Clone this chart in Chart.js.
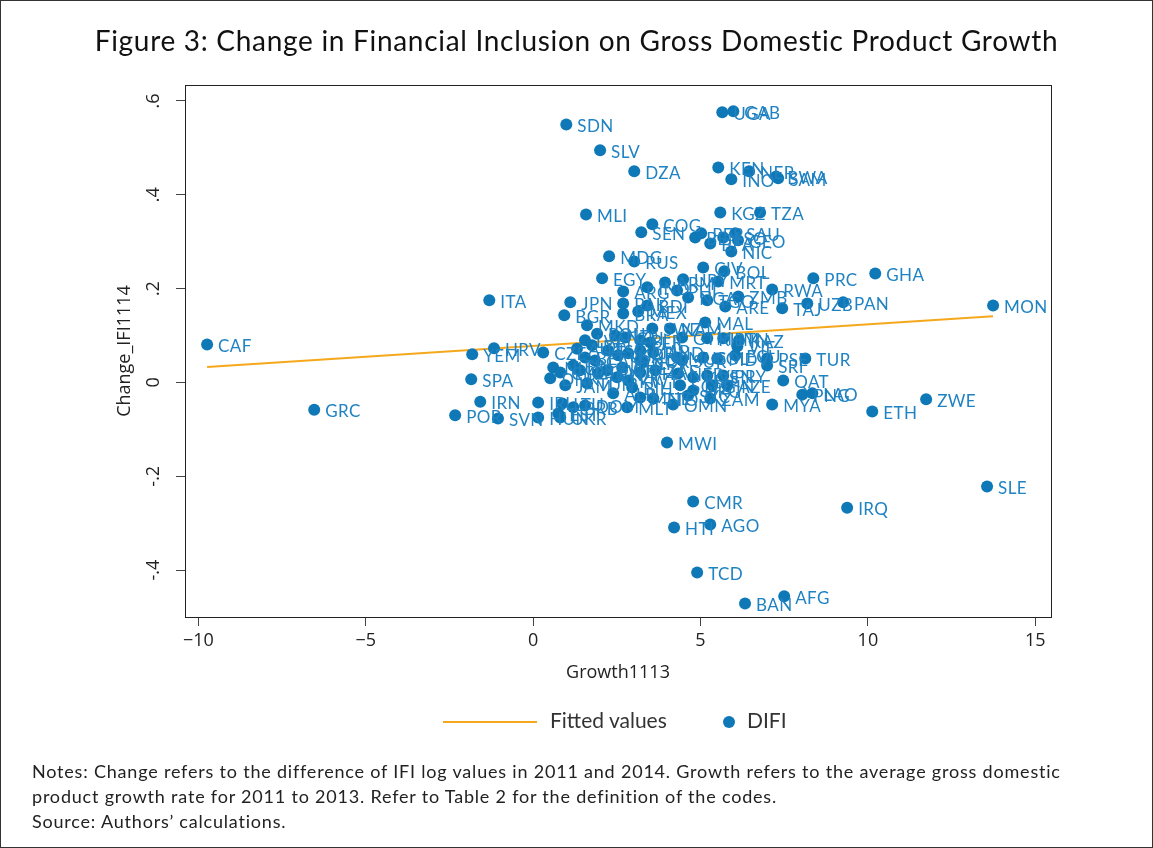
<!DOCTYPE html>
<html>
<head>
<meta charset="utf-8">
<script src="https://cdn.jsdelivr.net/npm/chart.js@4.4.0/dist/chart.umd.min.js"></script>
<style>
  body { margin: 0; background: #fff; }
  #moldura { position: absolute; left: 0; top: 0; width: 1153px; height: 848px; box-sizing: border-box; border: 1px solid #333; pointer-events: none; }
  #grafico { position: absolute; left: 0; top: 0; }
  #titulo { position: absolute; left: 0; top: 23px; width: 1153px; text-align: center; font: 28px Lato; letter-spacing: 0.7px; color: #111; }
  .leg { position: absolute; font: 21px Lato; color: #333; }
  #notas { position: absolute; left: 32px; top: 759px; font: 18px Lato; letter-spacing: 0.8px; line-height: 25px; color: #222; }
</style>
</head>
<body>
<canvas id="grafico" width="1153" height="848"></canvas>
<div id="titulo">Figure 3: Change in Financial Inclusion on Gross Domestic Product Growth</div>
<div style="position:absolute;left:443px;top:721px;width:94px;height:2px;background:#f5a81c"></div>
<div class="leg" style="left:550px;top:707px">Fitted values</div>
<div style="position:absolute;left:723px;top:716px;width:12px;height:12px;border-radius:6px;background:#0f78b6"></div>
<div class="leg" style="left:747px;top:707px">DIFI</div>
<div id="notas">Notes: Change refers to the difference of IFI log values in 2011 and 2014. Growth refers to the average gross domestic<br>product growth rate for 2011 to 2013. Refer to Table 2 for the definition of the codes.<br>Source: Authors’ calculations.</div>
<div id="moldura"></div>
<script>
// códigos dos países
var codes = ['CAF','GRC','ITA','HRV','YEM','SPA','IRN','POR','SVN','CZE','IRL','HUN',
  'SDN','SLV','DZA','UGA','GAB','KEN','NER','INO','BWA','SAM','MLI','KGZ','TZA','COG','SEN',
  'BEN','PER','LSO','SAU','GEO','BFA','NIC','MDG','RUS','CIV','BOL','PRC','GHA','EGY','PAN',
  'UZB','TAJ','RWA','ZMB','ARE','MRT','URY','ARM','IND','PHI','NGA','TGO','BDI','MON','ETH',
  'ZWE','SLE','IRQ','MWI','CMR','HTI','AGO','TCD','BAN','AFG','TUR','PSE','SRI','QAT','PNG',
  'LAO','MYA','KAZ','VIE','PRY','ZAM','OMN','MLT','MAL','MEX','JPN','BGR','MKD','ARG','PAK',
  'BRA','ROU','NZL','CRI','BLR','LVA','AUT','DEU','ISR','USA','KOR','MAR','BEL','CAN','NLD',
  'FIN','DNK','CYP','GBR','SWE','CHE','NOR','JAM','TUN','LBN','SVK','KWT','THA','ALB','BIH',
  'MNE','LTU','DOM','EST','BRB','UKR','SWZ','NAM','GTM','KHM','BTN','FJI','HND','MUS','SUR',
  'COL','MDV','ECU','CPV','ZAF','NEP','KOS','VEN','SGP','HKG','GIN','TTO','SYC','AZE'];

// Growth1113
var growth = [-9.74,-6.54,-1.31,-1.17,-1.82,-1.85,-1.58,-2.33,-1.05,0.30,0.15,0.15,
  0.99,2.00,3.02,5.65,5.98,5.53,6.45,5.92,7.26,7.32,1.58,5.59,6.78,3.56,3.23,
  4.84,5.02,5.68,6.04,6.12,5.29,5.92,2.27,3.02,5.08,5.71,8.37,10.22,2.06,9.26,
  8.19,7.44,7.14,6.13,5.74,5.53,4.48,3.94,3.41,4.30,4.63,5.20,3.41,13.74,10.13,
  11.74,13.56,9.38,4.00,4.78,4.21,5.29,4.90,6.33,7.50,8.13,6.99,6.99,7.47,8.04,
  8.34,7.14,6.15,6.10,5.68,5.29,4.18,2.81,5.14,3.14,1.11,0.93,1.61,2.69,2.69,
  2.69,1.91,2.45,2.75,3.20,1.55,1.31,1.76,2.24,2.54,2.84,3.20,1.55,1.85,0.60,
  1.20,0.51,0.81,1.40,2.21,2.66,3.20,0.96,1.61,1.94,2.51,2.84,3.20,2.39,2.96,
  3.20,0.87,1.55,0.75,1.20,0.81,3.56,4.09,4.45,5.20,5.68,3.50,3.59,4.30,4.45,
  5.08,5.50,6.04,3.29,3.65,4.33,4.78,5.20,4.39,4.78,5.35,3.59,4.63,5.80];

// Change_IFI1114
var change = [0.081,-0.058,0.175,0.073,0.060,0.007,-0.041,-0.070,-0.077,0.064,-0.043,-0.075,
  0.550,0.495,0.450,0.576,0.578,0.458,0.450,0.433,0.439,0.435,0.358,0.362,0.362,0.337,0.320,
  0.309,0.318,0.309,0.318,0.303,0.296,0.279,0.269,0.258,0.245,0.237,0.222,0.232,0.222,0.171,
  0.168,0.158,0.198,0.183,0.162,0.215,0.220,0.213,0.203,0.196,0.181,0.175,0.164,0.164,-0.062,
  -0.036,-0.222,-0.267,-0.128,-0.254,-0.309,-0.303,-0.405,-0.471,-0.456,0.051,0.051,0.036,0.004,-0.026,
  -0.023,-0.047,0.090,0.077,0.015,-0.034,-0.047,-0.053,0.128,0.151,0.171,0.143,0.122,0.194,0.168,
  0.147,0.104,0.100,0.096,0.090,0.090,0.072,0.079,0.068,0.058,0.062,0.068,0.053,0.047,0.032,
  0.036,0.009,0.021,0.026,0.026,0.032,0.047,-0.006,-0.002,0.019,0.011,0.004,0.021,-0.023,-0.011,
  -0.032,-0.045,-0.049,-0.066,-0.053,-0.075,0.115,0.115,0.096,0.094,0.094,0.085,0.064,0.053,0.047,
  0.053,0.051,0.058,0.043,0.026,0.019,0.011,0.015,-0.006,-0.017,-0.006,-0.034,-0.028,-0.006];

// reta ajustada (pontos extremos)
var fittedX = [-9.74, 13.74];
var fittedY = [0.033, 0.141];

// rótulos dos eixos
var xTicks = [-10, -5, 0, 5, 10, 15];
var xTickLabels = ['\u221210', '\u22125', '0', '5', '10', '15'];
var yTicks = [-0.4, -0.2, 0, 0.2, 0.4, 0.6];
var yTickLabels = ['-.4', '-.2', '0', '.2', '.4', '.6'];

var azul = '#0f78b6';
var laranja = '#f5a81c';

// Plugin para escrever o código ao lado de cada ponto
var rotulos = {
  id: 'rotulos',
  afterDatasetsDraw: function(chart) {
    var meta = chart.getDatasetMeta(1);
    var c = chart.ctx;
    c.save();
    c.font = '17px Lato';
    c.letterSpacing = '0.4px';
    c.fillStyle = '#1f82c2';
    c.textBaseline = 'middle';
    meta.data.forEach(function(pt, i) {
      c.fillText(codes[i], pt.x + 11, pt.y + 2);
    });
    c.restore();
  }
};

// Plugin para a moldura da área do gráfico
var caixa = {
  id: 'caixa',
  afterDraw: function(chart) {
    var a = chart.chartArea;
    var c = chart.ctx;
    c.save();
    c.strokeStyle = '#222';
    c.lineWidth = 1;
    c.strokeRect(Math.round(a.left) + 0.5, Math.round(a.top) + 0.5, Math.round(a.right - a.left), Math.round(a.bottom - a.top));
    c.restore();
  }
};

var fonteEixo = { family: 'Open Sans', size: 18 };

new Chart(document.getElementById('grafico').getContext('2d'), {
  type: 'scatter',
  data: {
    datasets: [{
      label: 'Fitted values',
      type: 'line',
      data: fittedX.map(function(x, i) { return { x: x, y: fittedY[i] }; }),
      borderColor: laranja,
      borderWidth: 2,
      pointRadius: 0,
      fill: false,
      order: 1
    }, {
      label: 'DIFI',
      data: growth.map(function(x, i) { return { x: x, y: change[i] }; }),
      backgroundColor: azul,
      borderWidth: 0,
      pointRadius: 6,
      order: 0
    }]
  },
  options: {
    responsive: false,
    animation: false,
    devicePixelRatio: 1,
    layout: { padding: { left: 105, top: 85, right: 102, bottom: 156 } },
    plugins: { legend: { display: false }, tooltip: { enabled: false } },
    scales: {
      x: {
        type: 'linear',
        min: -10.4,
        max: 15.47,
        afterBuildTicks: function(s) { s.ticks = xTicks.map(function(v) { return { value: v }; }); },
        afterFit: function(s) { s.height = 75; },
        ticks: {
          font: fonteEixo, color: '#222', padding: 4, maxRotation: 0,
          callback: function(v, i) { return xTickLabels[i]; }
        },
        grid: { drawOnChartArea: false, drawTicks: true, tickLength: 9, tickColor: '#444' },
        border: { color: '#222' },
        title: { display: true, text: 'Growth1113', font: fonteEixo, color: '#222', padding: { top: 0, bottom: 8 } }
      },
      y: {
        min: -0.5,
        max: 0.634,
        afterBuildTicks: function(s) { s.ticks = yTicks.map(function(v) { return { value: v }; }); },
        afterFit: function(s) { s.width = 80; },
        ticks: {
          font: fonteEixo, color: '#222', padding: 12, minRotation: 90, maxRotation: 90, crossAlign: 'center',
          callback: function(v, i) { return yTickLabels[i]; }
        },
        grid: { drawOnChartArea: false, drawTicks: true, tickLength: 9, tickColor: '#444' },
        border: { color: '#222' },
        title: { display: true, text: 'Change_IFI1114', font: fonteEixo, color: '#222', padding: { top: 9, bottom: 0 } }
      }
    }
  },
  plugins: [rotulos, caixa]
});
</script>
</body>
</html>
